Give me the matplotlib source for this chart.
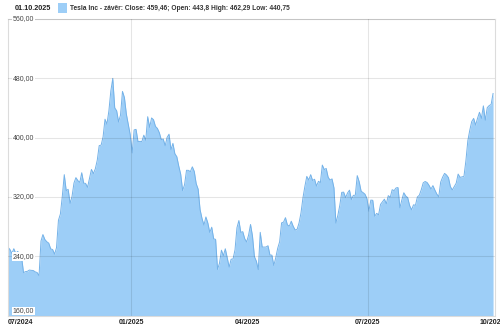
import matplotlib
matplotlib.use("Agg")
import matplotlib.pyplot as plt
import matplotlib.transforms as mtransforms
from matplotlib.patches import Rectangle
import numpy as np

plt.rcParams['font.family'] = ['Liberation Sans', 'DejaVu Sans']

# denni zaviraci ceny, po mesicich (okt 2024 - okt 2025)
oct24 = [252.0, 249.0, 243.7, 250.1, 243.8, 246.5, 243.0, 238.8, 217.8, 219.2, 219.6, 221.3,
         220.9, 220.7, 218.9, 218.0, 213.7, 260.5, 269.2, 262.5, 259.5, 257.6, 249.9]
nov24 = [249.0, 242.8, 251.4, 288.5, 296.9, 321.2, 350.0, 328.5, 330.2, 311.2, 320.7, 338.7,
         346.0, 342.0, 339.6, 352.6, 338.6, 338.2, 332.9, 345.2]
dec24 = [357.1, 351.4, 357.9, 369.5, 389.2, 389.8, 401.0, 424.8, 418.1, 436.2, 463.0, 479.9,
         440.1, 436.2, 421.1, 430.6, 462.3, 454.1, 431.7, 417.4, 403.8]
jan25 = [379.3, 410.4, 411.1, 394.4, 394.9, 394.7, 403.3, 396.4, 428.2, 413.8, 426.5, 424.1,
         415.1, 412.4, 406.6, 397.2, 398.1, 389.1, 400.3, 404.6]
feb25 = [383.7, 392.2, 378.2, 374.3, 361.6, 350.7, 328.5, 336.5, 355.9, 355.8, 354.1, 360.6,
         354.4, 337.8, 330.5, 302.8, 290.8, 282.0, 293.0]
mar25 = [284.7, 272.0, 279.1, 263.5, 262.7, 222.2, 230.6, 248.1, 240.7, 250.0, 238.0, 225.3,
         235.9, 236.3, 248.7, 278.4, 288.1, 272.1, 273.1, 263.6, 259.2]
apr25 = [268.5, 282.8, 267.3, 239.4, 233.3, 221.9, 272.2, 252.4, 252.3, 252.4, 254.1, 241.6,
         241.4, 227.5, 238.0, 250.7, 259.5, 285.0, 285.9, 292.0, 282.2]
may25 = [280.5, 287.2, 280.3, 275.4, 276.2, 284.8, 298.3, 318.4, 334.1, 347.7, 342.8, 350.0,
         342.1, 343.8, 334.6, 341.0, 339.3, 362.9, 356.9, 358.4, 346.5]
jun25 = [342.7, 344.3, 332.1, 284.7, 295.1, 308.6, 326.1, 326.4, 319.1, 325.3, 329.1, 316.4,
         322.1, 322.2, 348.7, 340.5, 327.6, 325.8, 323.6, 317.7]
jul25 = [300.7, 315.7, 315.4, 293.9, 297.8, 295.9, 309.9, 313.5, 316.9, 310.8, 321.7, 319.4,
         329.7, 328.5, 332.1, 332.6, 305.3, 316.1, 325.6, 321.2, 319.0, 308.3]
aug25 = [302.6, 309.3, 308.7, 319.9, 322.3, 329.7, 339.0, 340.8, 339.4, 335.6, 330.6, 335.2,
         329.3, 323.9, 320.1, 340.0, 346.6, 351.7, 349.6, 346.0, 333.9]
sep25 = [329.4, 334.1, 338.5, 350.8, 346.4, 347.0, 347.8, 368.8, 395.9, 410.0, 421.6, 425.9,
         416.9, 426.1, 434.2, 425.9, 442.8, 423.4, 440.4, 443.2, 444.7]
oct25 = [459.46]

months = [oct24, nov24, dec24, jan25, feb25, mar25, apr25, may25, jun25, jul25, aug25, sep25, oct25]

y_ticks = [160, 240, 320, 400, 480, 560]
x_labels = ["07/2024", "01/2025", "04/2025", "07/2025", "10/2025"]
label_months = [3, 6, 9, 12]     # index mesice v seznamu months (leden, duben, cervenec, rijen)
grid_months = [3, 9]             # svisle cary jen leden a cervenec

header_date = "01.10.2025"
legend_text = "Tesla Inc - závěr: Close: 459,46; Open: 443,8 High: 462,29 Low: 440,75"

fill_col = "#9dcef7"
line_col = "#74b2e8"

closes = np.concatenate(months)
x = np.arange(len(closes))
starts = np.cumsum([0] + [len(m) for m in months])

fig = plt.figure(figsize=(5, 3.28), dpi=100)
ax = fig.add_axes([8 / 500, 1 - 315.5 / 328, 487 / 500, (315.5 - 19) / 328])

ax.fill_between(x, closes, 160, color=fill_col, lw=0, zorder=1)
ax.plot(x, closes, color=line_col, lw=0.7, zorder=2)

ax.set_xlim(0, len(closes))
ax.set_ylim(160, 560)

# mrizka
for v in y_ticks:
    ax.axhline(v, color=(0, 0, 0, 0.1), lw=0.8, zorder=3)
for m in grid_months:
    ax.axvline(starts[m] - 0.5, color=(0, 0, 0, 0.1), lw=0.8, zorder=3)

for s in ax.spines.values():
    s.set_color("#dcdcdc")
    s.set_linewidth(0.8)

# popisky osy y uvnitr grafu
trans = mtransforms.blended_transform_factory(ax.transAxes, ax.transData)
for v in y_ticks:
    lab = f"{v:.2f}".replace(".", ",")
    ax.text(0.009, v + (0 if v > 160 else 1.5), lab, transform=trans,
            ha="left", va="center" if v > 160 else "bottom",
            fontsize=5, color="#444444", zorder=5,
            bbox=dict(facecolor="white", edgecolor="none", pad=0.6))

xpos = [0] + [starts[m] - 0.5 for m in label_months]
ax.set_yticks([])
ax.set_xticks(xpos, x_labels)
ax.tick_params(axis="x", length=0, pad=2.5, labelsize=5, labelcolor="#222222")
for t in ax.get_xticklabels():
    t.set_fontweight("bold")
ax.get_xticklabels()[0].set_horizontalalignment("left")

# hlavicka
fig.text(15 / 500, 1 - 8 / 328, header_date, fontsize=5.2, fontweight="bold",
         color="#222222", va="center")
fig.patches.append(Rectangle((58 / 500, 1 - 12.5 / 328), 9 / 500, 9 / 328,
                             transform=fig.transFigure, facecolor=fill_col,
                             edgecolor="none"))
fig.text(70 / 500, 1 - 8 / 328, legend_text, fontsize=4.8, fontweight="bold",
         color="#333333", va="center")

fig.savefig("out.png", dpi=100)
